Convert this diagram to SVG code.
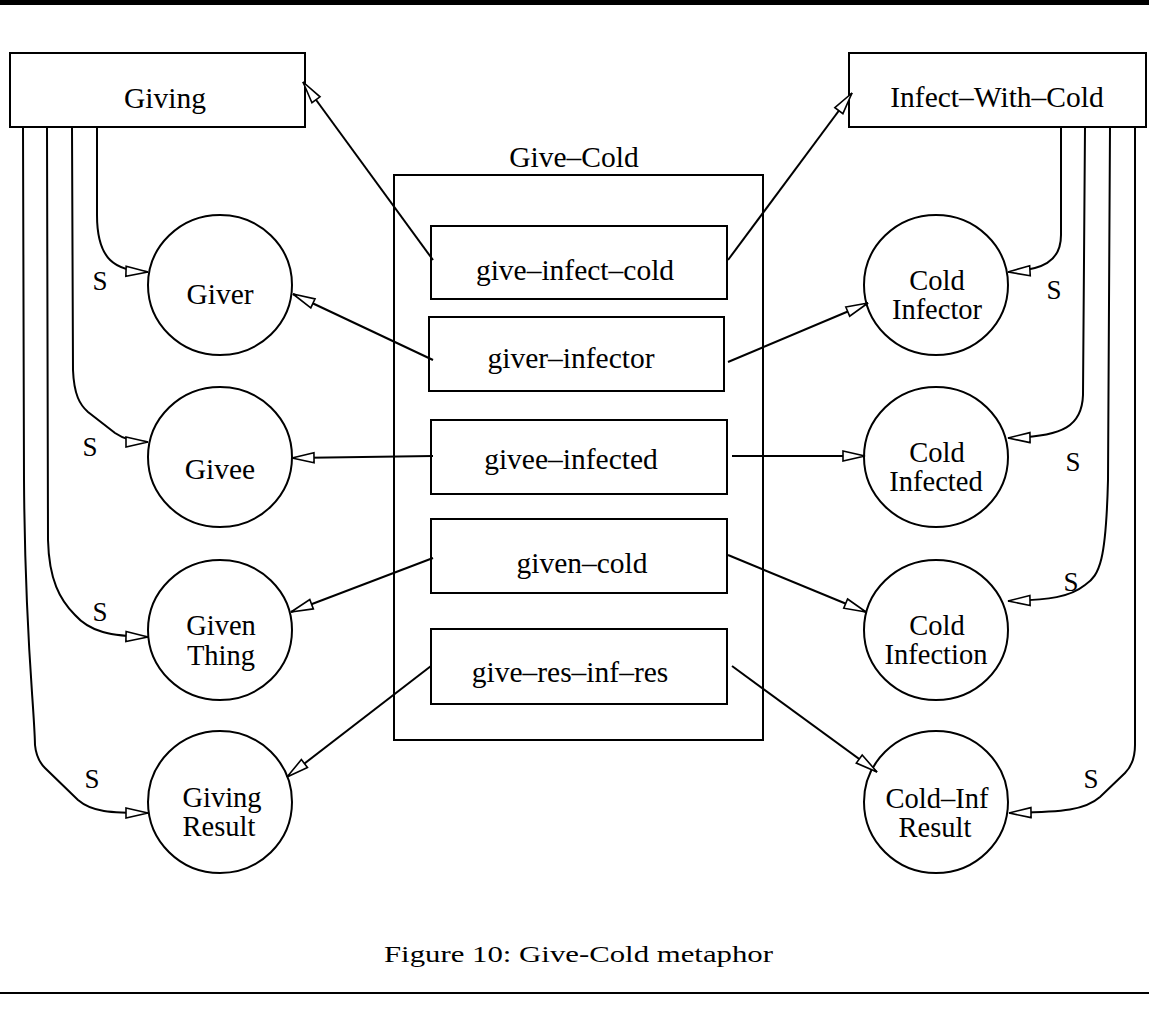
<svg xmlns="http://www.w3.org/2000/svg" width="1149" height="1023" viewBox="0 0 1149 1023">
<style>
  .box { fill: none; stroke: #000; stroke-width: 2; }
  .node { fill: #fff; stroke: #000; stroke-width: 2; }
  .t { font-family: "Liberation Serif", "Times New Roman", serif; font-size: 29.5px; fill: #000; text-anchor: middle; }
  .t2 { font-family: "Liberation Serif", "Times New Roman", serif; font-size: 28.5px; fill: #000; text-anchor: middle; }
  .s { font-family: "Liberation Serif", "Times New Roman", serif; font-size: 27px; fill: #000; text-anchor: middle; }
  .c { fill: none; stroke: #000; stroke-width: 2; marker-end: url(#ah); }
  .cap { font-family: "Liberation Serif", "Times New Roman", serif; font-size: 24px; fill: #000; }
</style>
<defs>
  <marker id="ah" markerUnits="userSpaceOnUse" viewBox="0 0 25 13" refX="23.5" refY="6.5" markerWidth="25" markerHeight="13" orient="auto">
    <path d="M1.5,1.5 L23.5,6.5 L1.5,11.5 Z" fill="#fff" stroke="#000" stroke-width="1.6"/>
  </marker>
</defs>
<rect x="0" y="0" width="1149" height="1023" fill="#fff"/>
<rect x="0" y="0" width="1149" height="5" fill="#000"/>

<g id="give-cold">
  <rect class="box" x="394" y="175" width="369" height="565"/>
  <text class="t" x="574" y="167">Give–Cold</text>
</g>
<g id="giving">
  <rect class="node" x="10" y="53" width="295" height="74"/>
  <text class="t" x="165" y="108">Giving</text>
</g>
<g id="infect-with-cold">
  <rect class="node" x="849" y="53" width="297" height="74"/>
  <text class="t" x="997" y="107">Infect–With–Cold</text>
</g>
<g id="give-infect-cold">
  <rect class="node" x="431" y="226" width="296" height="73"/>
  <text class="t" x="575" y="280">give–infect–cold</text>
</g>
<g id="giver-infector">
  <rect class="node" x="429" y="317" width="295" height="74"/>
  <text class="t" x="571" y="368">giver–infector</text>
</g>
<g id="givee-infected">
  <rect class="node" x="431" y="420" width="296" height="74"/>
  <text class="t" x="571" y="469">givee–infected</text>
</g>
<g id="given-cold">
  <rect class="node" x="431" y="519" width="296" height="74"/>
  <text class="t" x="582" y="573">given–cold</text>
</g>
<g id="give-res-inf-res">
  <rect class="node" x="431" y="629" width="296" height="75"/>
  <text class="t" x="570" y="682">give–res–inf–res</text>
</g>

<g id="giver">
  <ellipse class="node" cx="220" cy="285" rx="72" ry="70"/>
  <text class="t" x="220" y="304">Giver</text>
</g>
<g id="givee">
  <ellipse class="node" cx="220" cy="457" rx="72" ry="70"/>
  <text class="t" x="220" y="479">Givee</text>
</g>
<g id="given-thing">
  <ellipse class="node" cx="220" cy="630" rx="72" ry="70"/>
  <text class="t2" x="221" y="635">Given</text>
  <text class="t2" x="221" y="665">Thing</text>
</g>
<g id="giving-result">
  <ellipse class="node" cx="220" cy="802" rx="72" ry="71"/>
  <text class="t2" x="222" y="807">Giving</text>
  <text class="t2" x="219" y="836">Result</text>
</g>
<g id="cold-infector">
  <ellipse class="node" cx="936" cy="285" rx="72" ry="70"/>
  <text class="t2" x="937" y="290">Cold</text>
  <text class="t2" x="937" y="319">Infector</text>
</g>
<g id="cold-infected">
  <ellipse class="node" cx="936" cy="457" rx="72" ry="70"/>
  <text class="t2" x="937" y="462">Cold</text>
  <text class="t2" x="936" y="491">Infected</text>
</g>
<g id="cold-infection">
  <ellipse class="node" cx="936" cy="630" rx="72" ry="70"/>
  <text class="t2" x="937" y="635">Cold</text>
  <text class="t2" x="936" y="664">Infection</text>
</g>
<g id="cold-inf-result">
  <ellipse class="node" cx="936" cy="802" rx="72" ry="71"/>
  <text class="t2" x="937" y="808">Cold–Inf</text>
  <text class="t2" x="935" y="837">Result</text>
</g>

<g id="connectors">
  <line class="c" x1="433" y1="260" x2="303" y2="82"/>
  <line class="c" x1="728" y1="260" x2="852" y2="93"/>
  <line class="c" x1="433" y1="360" x2="293" y2="294"/>
  <line class="c" x1="728" y1="362" x2="868" y2="303"/>
  <line class="c" x1="433" y1="456" x2="292" y2="458"/>
  <line class="c" x1="732" y1="456" x2="865" y2="456"/>
  <line class="c" x1="433" y1="558" x2="291" y2="612"/>
  <line class="c" x1="728" y1="555" x2="866" y2="612"/>
  <line class="c" x1="431" y1="666" x2="287" y2="777"/>
  <line class="c" x1="732" y1="666" x2="877" y2="772"/>

  <path class="c" d="M97,127 L97,215 C97,260 115,271 148,272"/>
  <path class="c" d="M72,127 L73,370 C74,395 80,405 88,412 L115,433 C125,440 135,442 148,442"/>
  <path class="c" d="M47,127 L48,540 C49,580 60,600 75,615 C90,632 110,636 148,637"/>
  <path class="c" d="M23,127 L24,480 C25,640 34,700 35,745 C36,756 39,762 45,768 L78,800 C92,812 110,813 148,813"/>

  <path class="c" d="M1061,127 L1061,235 C1061,262 1042,270 1008,272"/>
  <path class="c" d="M1085,127 L1083,395 C1082,425 1065,437 1008,438"/>
  <path class="c" d="M1110,127 L1108,480 C1106,560 1100,575 1085,585 C1070,597 1050,600 1008,601"/>
  <path class="c" d="M1135,127 L1135,745 C1135,760 1130,768 1125,773 L1100,797 C1085,810 1065,812 1009,813"/>

  <text class="s" x="100" y="290">S</text>
  <text class="s" x="90" y="456">S</text>
  <text class="s" x="100" y="621">S</text>
  <text class="s" x="92" y="788">S</text>
  <text class="s" x="1054" y="299">S</text>
  <text class="s" x="1073" y="471">S</text>
  <text class="s" x="1071" y="591">S</text>
  <text class="s" x="1091" y="788">S</text>
</g>

<text class="cap" x="384" y="962" textLength="389" lengthAdjust="spacingAndGlyphs">Figure 10: Give-Cold metaphor</text>
<rect x="0" y="992" width="1149" height="2" fill="#000"/>
</svg>
